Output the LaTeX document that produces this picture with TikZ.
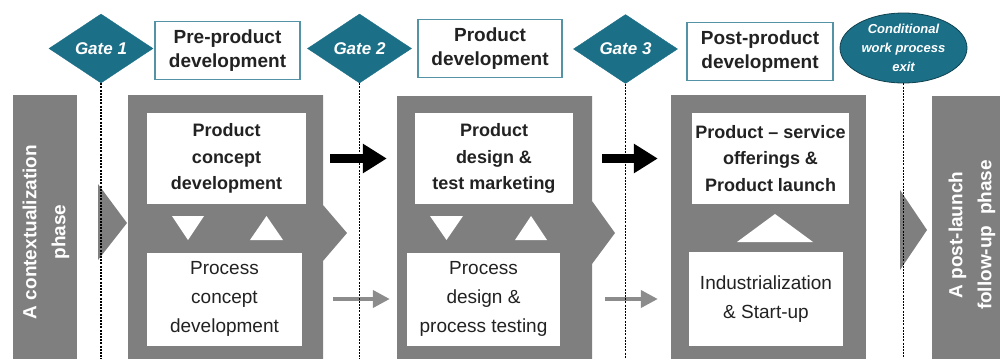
\documentclass[tikz,border=0pt]{standalone}
\usepackage{fontspec}
\setmainfont{Liberation Sans}
\usetikzlibrary{arrows.meta,positioning,shapes.geometric}
\definecolor{gate}{HTML}{1B6F87}
\definecolor{stage}{HTML}{7F7F7F}
\definecolor{flow}{HTML}{8C8C8C}
\definecolor{ink}{HTML}{222222}

\tikzset{
  gatebox/.style={diamond, fill=gate, draw=gate, text=white, inner sep=0pt,
    minimum width=104pt, minimum height=69pt,
    font=\fontsize{17}{20}\selectfont\bfseries\itshape},
  exitbox/.style={ellipse, fill=gate, draw=gate!60!black, line width=0.8pt, text=white,
    inner sep=0pt, minimum width=127pt, minimum height=70pt, align=center,
    font=\fontsize{13}{19}\selectfont\bfseries\itshape},
  phasebox/.style={draw=gate!75, line width=1.8pt, fill=white, text=ink, align=center, inner sep=0pt,
    minimum width=145pt, minimum height=58pt, font=\fontsize{19}{23.5}\selectfont\bfseries},
  taskbox/.style={fill=white, text=ink, align=center, inner sep=0pt, minimum height=91pt,
    font=\fontsize{18}{26.5}\selectfont\bfseries},
  subbox/.style={fill=white, text=ink, align=center, inner sep=0pt, minimum height=93pt,
    font=\fontsize{19}{29}\selectfont},
  barlabel/.style={rotate=90, text=white, align=center,
    font=\fontsize{19}{29}\selectfont\bfseries},
  gatelink/.style={line width=1.1pt, dash pattern=on 2pt off 1.2pt},
  mainflow/.style={line width=9pt, -{Triangle[length=24pt,width=28pt]}},
  sideflow/.style={draw=flow, line width=4pt, -{Triangle[length=17pt,width=17pt]}}
}

\begin{document}
\begin{tikzpicture}[x=1pt, y=-1pt]
  \useasboundingbox (0,0) rectangle (1002,359);
  \coordinate (bottom) at (0,359);

  % grey stage blocks
  \fill[stage] (13,95) rectangle (77,359);
  \fill[stage] (98,184) -- (127,223) -- (98,260) -- cycle;
  \fill[stage] (128,95) -- (323,95) -- (323,205) -- (347,233) -- (323,261) -- (323,359) -- (128,359) -- cycle;
  \fill[stage] (397,96) -- (592,96) -- (592,201) -- (615,233) -- (592,264) -- (592,359) -- (397,359) -- cycle;
  \fill[stage] (671,95) rectangle (866,359);
  \fill[stage] (900,190) -- (927,230) -- (900,270) -- cycle;
  \fill[stage] (932,96) rectangle (1000,359);

  \node[barlabel] (prelaunch) at (46,232) {A contextualization\\phase};
  \node[barlabel] (postlaunch) at (972,235) {A post-launch\\follow-up~~phase};

  % gates and phase titles
  \node[gatebox] (g1) at (101,48.5) {Gate 1};
  \node[gatebox] (g2) at (359.5,48.5) {Gate 2};
  \node[gatebox] (g3) at (625.5,49) {Gate 3};
  \node[exitbox] (exit) at (903.5,48) {Conditional\\work process\\exit};

  \node[phasebox] (prephase) at (227.5,50.5) {Pre-product\\development};
  \node[phasebox, minimum width=144pt] (mainphase) at (490,48.5) {Product\\development};
  \node[phasebox, minimum width=146pt] (postphase) at (760,51.5) {Post-product\\development};

  % activities
  \node[taskbox, minimum width=159pt] (prodconcept) at (226.5,158.5) {Product\\concept\\development};
  \node[subbox, minimum width=155pt] (proconcept) at (224.5,299) {Process\\concept\\development};
  \node[taskbox, minimum width=158pt] (proddesign) at (494,158.5) {Product\\design \&\\test marketing};
  \node[subbox, minimum width=153pt] (procdesign) at (483.5,299) {Process\\design \&\\process testing};
  \node[taskbox, minimum width=157pt] (prodlaunch) at (770.5,158.5) {Product -- service\\offerings \&\\Product launch};
  \node[subbox, minimum width=154pt, minimum height=94pt] (industrial) at (766,299) {Industrialization\\\& Start-up};

  % exchange between product and process
  \fill[white] (172,216) -- (204,216) -- (188,240) -- cycle;
  \fill[white] (250,240) -- (283,240) -- (266.5,216) -- cycle;
  \fill[white] (430,216) -- (463,216) -- (446.5,240) -- cycle;
  \fill[white] (515,240) -- (547,240) -- (531,216) -- cycle;
  \fill[white] (737,242) -- (813,242) -- (775,214) -- cycle;

  \draw[mainflow, shorten <=24pt, shorten >=28pt] (prodconcept) -- (proddesign);
  \draw[mainflow, shorten <=29pt, shorten >=34pt] (proddesign) -- (prodlaunch);
  \draw[sideflow, shorten <=31pt, shorten >=17pt] (proconcept) -- (procdesign);
  \draw[sideflow, shorten <=45pt, shorten >=31pt] (procdesign) -- (industrial);

  % gate lines
  \draw[gatelink] (g1.south) -- (g1.south |- bottom);
  \draw[gatelink] (g2.south) -- (g2.south |- bottom);
  \draw[gatelink] (g3.south) -- (g3.south |- bottom);
  \draw[gatelink] (exit.south) -- (exit.south |- bottom);
\end{tikzpicture}
\end{document}
